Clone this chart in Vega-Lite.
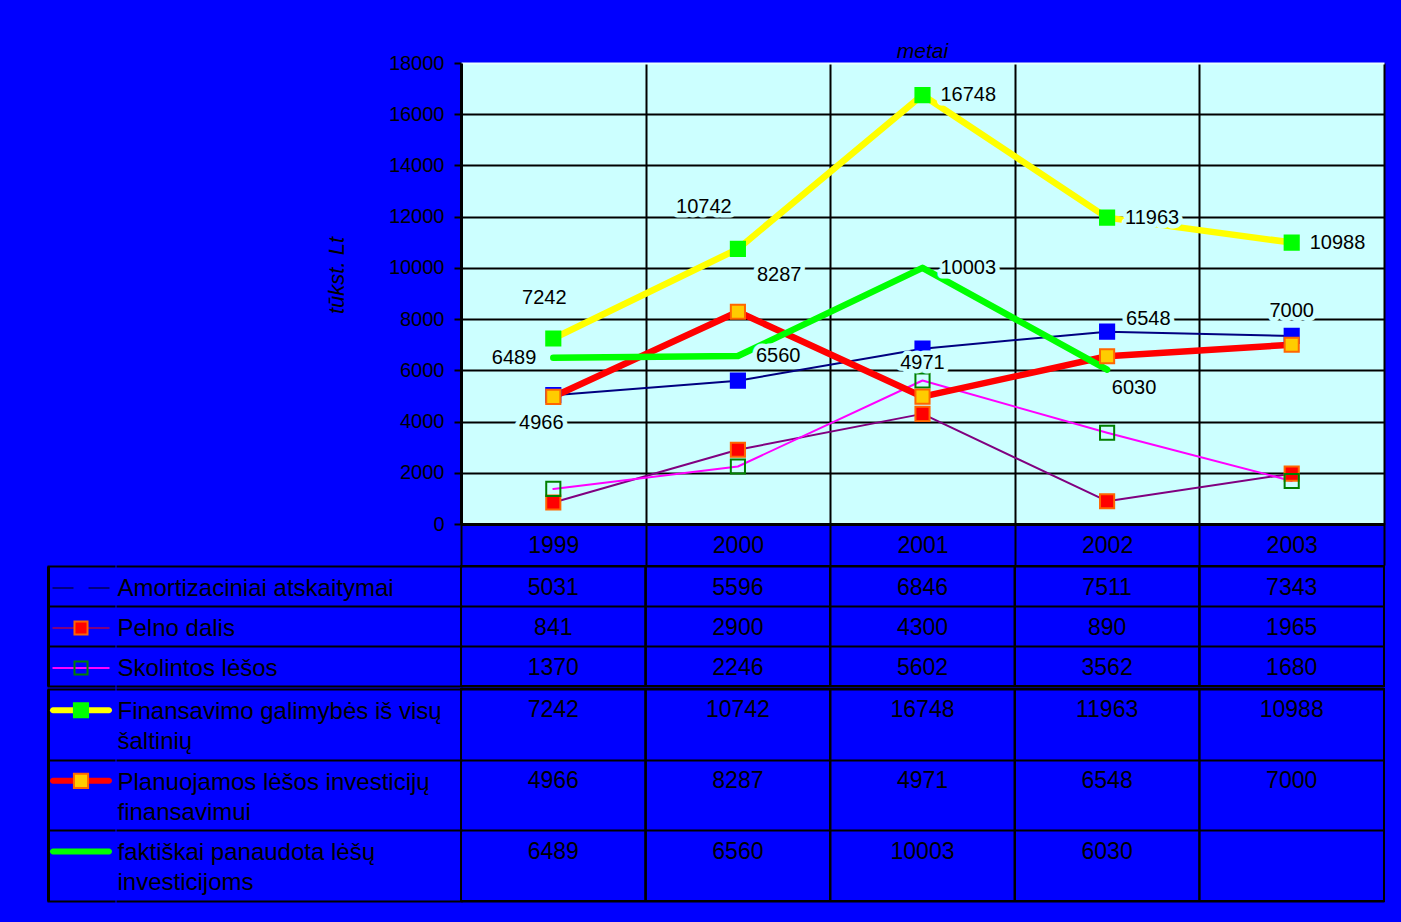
{
  "$schema": "https://vega.github.io/schema/vega-lite/v6.json",
  "background": "#0000FF",
  "padding": {"left": 48, "top": 41, "right": 15, "bottom": 19},
  "autosize": {"type": "pad"},
  "config": {
    "font": "Liberation Sans",
    "view": {"stroke": null},
    "axis": {"labelFont": "Liberation Sans", "titleFont": "Liberation Sans", "labelColor": "black", "titleColor": "black"},
    "text": {"font": "Liberation Sans"},
    "title": {"font": "Liberation Sans"}
  },
  "datasets": {
    "vals": [
      {"s": "Amortizaciniai atskaitymai", "y": 1999, "v": 5031},
      {"s": "Amortizaciniai atskaitymai", "y": 2000, "v": 5596},
      {"s": "Amortizaciniai atskaitymai", "y": 2001, "v": 6846},
      {"s": "Amortizaciniai atskaitymai", "y": 2002, "v": 7511},
      {"s": "Amortizaciniai atskaitymai", "y": 2003, "v": 7343},
      {"s": "Pelno dalis", "y": 1999, "v": 841},
      {"s": "Pelno dalis", "y": 2000, "v": 2900},
      {"s": "Pelno dalis", "y": 2001, "v": 4300},
      {"s": "Pelno dalis", "y": 2002, "v": 890},
      {"s": "Pelno dalis", "y": 2003, "v": 1965},
      {"s": "Skolintos lėšos", "y": 1999, "v": 1370},
      {"s": "Skolintos lėšos", "y": 2000, "v": 2246},
      {"s": "Skolintos lėšos", "y": 2001, "v": 5602},
      {"s": "Skolintos lėšos", "y": 2002, "v": 3562},
      {"s": "Skolintos lėšos", "y": 2003, "v": 1680},
      {"s": "Finansavimo galimybės iš visų šaltinių", "y": 1999, "v": 7242},
      {"s": "Finansavimo galimybės iš visų šaltinių", "y": 2000, "v": 10742},
      {"s": "Finansavimo galimybės iš visų šaltinių", "y": 2001, "v": 16748},
      {"s": "Finansavimo galimybės iš visų šaltinių", "y": 2002, "v": 11963},
      {"s": "Finansavimo galimybės iš visų šaltinių", "y": 2003, "v": 10988},
      {"s": "Planuojamos lėšos investicijų finansavimui", "y": 1999, "v": 4966},
      {"s": "Planuojamos lėšos investicijų finansavimui", "y": 2000, "v": 8287},
      {"s": "Planuojamos lėšos investicijų finansavimui", "y": 2001, "v": 4971},
      {"s": "Planuojamos lėšos investicijų finansavimui", "y": 2002, "v": 6548},
      {"s": "Planuojamos lėšos investicijų finansavimui", "y": 2003, "v": 7000},
      {"s": "faktiškai panaudota lėšų investicijoms", "y": 1999, "v": 6489},
      {"s": "faktiškai panaudota lėšų investicijoms", "y": 2000, "v": 6560},
      {"s": "faktiškai panaudota lėšų investicijoms", "y": 2001, "v": 10003},
      {"s": "faktiškai panaudota lėšų investicijoms", "y": 2002, "v": 6030}
    ]
  },
  "columns": 2,
  "spacing": {"row": -13, "column": 0},
  "align": "each",
  "bounds": "full",
  "resolve": {"scale": {"x": "independent", "y": "independent"}},
  "concat": [
    {
      "width": 10,
      "height": 10,
      "data": {"values": [{"t": ""}]},
      "mark": {"type": "text"},
      "encoding": {"text": {"field": "t"}}
    },
    {
      "width": 923,
      "height": 461,
      "view": {"fill": "#CCFFFF", "stroke": null},
      "title": {"text": "metai", "anchor": "middle", "frame": "group", "fontStyle": "italic", "fontWeight": "normal", "fontSize": 21, "color": "black", "offset": -9},
      "data": {"name": "vals"},
      "encoding": {
        "x": {
          "field": "y", "type": "ordinal", "bandPosition": 0.5,
          "scale": {"type": "band", "paddingInner": 0, "paddingOuter": 0},
          "axis": {"title": null, "orient": "bottom", "minExtent": 0, "labelAngle": 0, "labelFontSize": 23, "labelColor": "black", "labelPadding": -19, "labelBaseline": "middle", "tickBand": "extent", "tickSize": 40, "tickColor": "black", "tickWidth": 2, "tickCap": "square", "domainColor": "black", "domainWidth": 3, "grid": true, "gridColor": "black", "gridWidth": 2}
        },
        "y": {
          "field": "v", "type": "quantitative",
          "scale": {"domain": [0, 18000], "nice": false},
          "axis": {"title": "tūkst. Lt", "values": [0, 2000, 4000, 6000, 8000, 10000, 12000, 14000, 16000, 18000], "format": "d", "grid": true, "gridColor": {"condition": {"test": "datum.value == 18000", "value": "#E8FFFF"}, "value": "black"}, "gridWidth": 2, "tickSize": 7, "tickColor": "black", "tickWidth": 2, "labelPadding": 10, "labelFontSize": 20, "labelColor": "black", "domainColor": "black", "domainWidth": 3, "titleFontSize": 22, "titleFontStyle": "italic", "titleFontWeight": "normal", "titleColor": "black", "titleX": -113, "titleY": 212}
        }
      },
      "layer": [
        {
          "transform": [{"filter": {"field": "s", "oneOf": ["Amortizaciniai atskaitymai", "Pelno dalis", "Skolintos lėšos"]}}],
          "mark": {"type": "line", "strokeWidth": 2, "strokeCap": "round", "strokeJoin": "round"},
          "encoding": {
            "color": {"field": "s", "type": "nominal", "legend": null, "scale": {"domain": ["Amortizaciniai atskaitymai", "Pelno dalis", "Skolintos lėšos", "Finansavimo galimybės iš visų šaltinių", "Planuojamos lėšos investicijų finansavimui", "faktiškai panaudota lėšų investicijoms"], "range": ["#000080", "#800080", "#FF00FF", "#FFFF00", "#FF0000", "#00FF00"]}}
          }
        },
        {
          "transform": [{"filter": {"field": "s", "oneOf": ["Finansavimo galimybės iš visų šaltinių", "Planuojamos lėšos investicijų finansavimui", "faktiškai panaudota lėšų investicijoms"]}}],
          "mark": {"type": "line", "strokeWidth": 6.5, "strokeCap": "round", "strokeJoin": "round"},
          "encoding": {
            "color": {"field": "s", "type": "nominal", "legend": null, "scale": {"domain": ["Amortizaciniai atskaitymai", "Pelno dalis", "Skolintos lėšos", "Finansavimo galimybės iš visų šaltinių", "Planuojamos lėšos investicijų finansavimui", "faktiškai panaudota lėšų investicijoms"], "range": ["#000080", "#800080", "#FF00FF", "#FFFF00", "#FF0000", "#00FF00"]}}
          }
        },
        {
          "transform": [{"filter": "!test(/^fak/, datum.s)"}],
          "mark": {"type": "point", "shape": "square", "filled": true, "size": 200, "strokeWidth": 2, "opacity": 1},
          "encoding": {
            "fill": {"field": "s", "type": "nominal", "legend": null, "scale": {"domain": ["Amortizaciniai atskaitymai", "Pelno dalis", "Skolintos lėšos", "Finansavimo galimybės iš visų šaltinių", "Planuojamos lėšos investicijų finansavimui"], "range": ["#0000FF", "#FF0000", "transparent", "#00FF00", "#FFCC00"]}},
            "stroke": {"field": "s", "type": "nominal", "legend": null, "scale": {"domain": ["Amortizaciniai atskaitymai", "Pelno dalis", "Skolintos lėšos", "Finansavimo galimybės iš visų šaltinių", "Planuojamos lėšos investicijų finansavimui"], "range": ["#0000FF", "#FF6600", "#008000", "#00FF00", "#FF6600"]}}
          }
        },
        {"transform": [{"filter": "(test(/^Fin/, datum.s) && datum.y >= 2001) || (test(/^fak/, datum.s) && (datum.y == 2000 || datum.y == 2001))"}], "mark": {"type": "text", "align": "left", "baseline": "middle", "dx": 18, "dy": 0, "fontSize": 20, "fill": "#CCFFFF", "stroke": "#CCFFFF", "strokeWidth": 9, "strokeJoin": "round"}, "encoding": {"text": {"field": "v", "type": "quantitative", "format": "d"}}},
        {"transform": [{"filter": "test(/^fak/, datum.s) && datum.y == 1999"}], "mark": {"type": "text", "align": "right", "baseline": "middle", "dx": -17, "dy": 0, "fontSize": 20, "fill": "#CCFFFF", "stroke": "#CCFFFF", "strokeWidth": 9, "strokeJoin": "round"}, "encoding": {"text": {"field": "v", "type": "quantitative", "format": "d"}}},
        {"transform": [{"filter": "test(/^Plan/, datum.s) && (datum.y == 2001 || datum.y == 2003)"}], "mark": {"type": "text", "align": "center", "baseline": "middle", "dx": 0, "dy": -34, "fontSize": 20, "fill": "#CCFFFF", "stroke": "#CCFFFF", "strokeWidth": 9, "strokeJoin": "round"}, "encoding": {"text": {"field": "v", "type": "quantitative", "format": "d"}}},
        {"transform": [{"filter": "test(/^Fin/, datum.s) && datum.y == 1999"}], "mark": {"type": "text", "align": "center", "baseline": "middle", "dx": -9, "dy": -41, "fontSize": 20, "fill": "#CCFFFF", "stroke": "#CCFFFF", "strokeWidth": 9, "strokeJoin": "round"}, "encoding": {"text": {"field": "v", "type": "quantitative", "format": "d"}}},
        {"transform": [{"filter": "test(/^Fin/, datum.s) && datum.y == 2000"}], "mark": {"type": "text", "align": "center", "baseline": "middle", "dx": -34, "dy": -42, "fontSize": 20, "fill": "#CCFFFF", "stroke": "#CCFFFF", "strokeWidth": 9, "strokeJoin": "round"}, "encoding": {"text": {"field": "v", "type": "quantitative", "format": "d"}}},
        {"transform": [{"filter": "test(/^Plan/, datum.s) && (datum.y == 2000 || datum.y == 2002)"}], "mark": {"type": "text", "align": "left", "baseline": "middle", "dx": 19, "dy": -37, "fontSize": 20, "fill": "#CCFFFF", "stroke": "#CCFFFF", "strokeWidth": 9, "strokeJoin": "round"}, "encoding": {"text": {"field": "v", "type": "quantitative", "format": "d"}}},
        {"transform": [{"filter": "test(/^Plan/, datum.s) && datum.y == 1999"}], "mark": {"type": "text", "align": "center", "baseline": "middle", "dx": -12, "dy": 26, "fontSize": 20, "fill": "#CCFFFF", "stroke": "#CCFFFF", "strokeWidth": 9, "strokeJoin": "round"}, "encoding": {"text": {"field": "v", "type": "quantitative", "format": "d"}}},
        {"transform": [{"filter": "test(/^fak/, datum.s) && datum.y == 2002"}], "mark": {"type": "text", "align": "center", "baseline": "middle", "dx": 27, "dy": 18, "fontSize": 20, "fill": "#CCFFFF", "stroke": "#CCFFFF", "strokeWidth": 9, "strokeJoin": "round"}, "encoding": {"text": {"field": "v", "type": "quantitative", "format": "d"}}},
        {"transform": [{"filter": "(test(/^Fin/, datum.s) && datum.y >= 2001) || (test(/^fak/, datum.s) && (datum.y == 2000 || datum.y == 2001))"}], "mark": {"type": "text", "align": "left", "baseline": "middle", "dx": 18, "dy": 0, "fontSize": 20, "fill": "black"}, "encoding": {"text": {"field": "v", "type": "quantitative", "format": "d"}}},
        {"transform": [{"filter": "test(/^fak/, datum.s) && datum.y == 1999"}], "mark": {"type": "text", "align": "right", "baseline": "middle", "dx": -17, "dy": 0, "fontSize": 20, "fill": "black"}, "encoding": {"text": {"field": "v", "type": "quantitative", "format": "d"}}},
        {"transform": [{"filter": "test(/^Plan/, datum.s) && (datum.y == 2001 || datum.y == 2003)"}], "mark": {"type": "text", "align": "center", "baseline": "middle", "dx": 0, "dy": -34, "fontSize": 20, "fill": "black"}, "encoding": {"text": {"field": "v", "type": "quantitative", "format": "d"}}},
        {"transform": [{"filter": "test(/^Fin/, datum.s) && datum.y == 1999"}], "mark": {"type": "text", "align": "center", "baseline": "middle", "dx": -9, "dy": -41, "fontSize": 20, "fill": "black"}, "encoding": {"text": {"field": "v", "type": "quantitative", "format": "d"}}},
        {"transform": [{"filter": "test(/^Fin/, datum.s) && datum.y == 2000"}], "mark": {"type": "text", "align": "center", "baseline": "middle", "dx": -34, "dy": -42, "fontSize": 20, "fill": "black"}, "encoding": {"text": {"field": "v", "type": "quantitative", "format": "d"}}},
        {"transform": [{"filter": "test(/^Plan/, datum.s) && (datum.y == 2000 || datum.y == 2002)"}], "mark": {"type": "text", "align": "left", "baseline": "middle", "dx": 19, "dy": -37, "fontSize": 20, "fill": "black"}, "encoding": {"text": {"field": "v", "type": "quantitative", "format": "d"}}},
        {"transform": [{"filter": "test(/^Plan/, datum.s) && datum.y == 1999"}], "mark": {"type": "text", "align": "center", "baseline": "middle", "dx": -12, "dy": 26, "fontSize": 20, "fill": "black"}, "encoding": {"text": {"field": "v", "type": "quantitative", "format": "d"}}},
        {"transform": [{"filter": "test(/^fak/, datum.s) && datum.y == 2002"}], "mark": {"type": "text", "align": "center", "baseline": "middle", "dx": 27, "dy": 18, "fontSize": 20, "fill": "black"}, "encoding": {"text": {"field": "v", "type": "quantitative", "format": "d"}}}
      ]
    },
    {
      "width": 66,
      "height": 120,
      "data": {"name": "vals"},
      "transform": [{"filter": "datum.y == 1999"}, {"filter": {"field": "s", "oneOf": ["Amortizaciniai atskaitymai", "Pelno dalis", "Skolintos lėšos"]}}],
      "encoding": {
        "y": {"field": "s", "type": "nominal", "bandPosition": 0.55, "scale": {"type": "band", "domain": ["Amortizaciniai atskaitymai", "Pelno dalis", "Skolintos lėšos"], "paddingInner": 0, "paddingOuter": 0}, "axis": {"title": null, "labels": false, "ticks": false, "domain": true, "domainColor": "black", "domainWidth": 3, "grid": true, "gridColor": "black", "gridWidth": 2, "gridCap": "square", "tickBand": "extent"}}
      },
      "layer": [
        {"mark": {"type": "tick", "orient": "horizontal", "size": 57, "thickness": 2, "opacity": 1}, "encoding": {"color": {"field": "s", "type": "nominal", "legend": null, "scale": {"domain": ["Amortizaciniai atskaitymai", "Pelno dalis", "Skolintos lėšos", "Finansavimo galimybės iš visų šaltinių", "Planuojamos lėšos investicijų finansavimui", "faktiškai panaudota lėšų investicijoms"], "range": ["#000080", "#800080", "#FF00FF", "#FFFF00", "#FF0000", "#00FF00"]}}}},
        {"mark": {"type": "point", "shape": "square", "filled": true, "size": 170, "strokeWidth": 2, "opacity": 1}, "encoding": {
          "fill": {"field": "s", "type": "nominal", "legend": null, "scale": {"domain": ["Amortizaciniai atskaitymai", "Pelno dalis", "Skolintos lėšos", "Finansavimo galimybės iš visų šaltinių", "Planuojamos lėšos investicijų finansavimui"], "range": ["#0000FF", "#FF0000", "transparent", "#00FF00", "#FFCC00"]}},
          "stroke": {"field": "s", "type": "nominal", "legend": null, "scale": {"domain": ["Amortizaciniai atskaitymai", "Pelno dalis", "Skolintos lėšos", "Finansavimo galimybės iš visų šaltinių", "Planuojamos lėšos investicijų finansavimui"], "range": ["#0000FF", "#FF6600", "#008000", "#00FF00", "#FF6600"]}}
        }}
      ]
    },
    {
      "width": 923,
      "height": 120,
      "view": {"stroke": "black", "strokeWidth": 2},
      "data": {"name": "vals"},
      "transform": [{"filter": {"field": "s", "oneOf": ["Amortizaciniai atskaitymai", "Pelno dalis", "Skolintos lėšos"]}}],
      "layer": [
        {
          "mark": {"type": "rule", "color": "black", "strokeWidth": 2},
          "encoding": {"x": {"field": "y", "type": "ordinal", "bandPosition": 0, "scale": {"type": "band", "domain": [1999, 2000, 2001, 2002, 2003], "paddingInner": 0, "paddingOuter": 0}, "axis": null}}
        },
        {
          "mark": {"type": "text", "fontSize": 23, "baseline": "middle", "fill": "black"},
          "encoding": {
            "x": {"field": "y", "type": "ordinal", "bandPosition": 0.5, "scale": {"type": "band", "domain": [1999, 2000, 2001, 2002, 2003], "paddingInner": 0, "paddingOuter": 0}, "axis": null},
            "y": {"field": "s", "type": "nominal", "bandPosition": 0.55, "scale": {"type": "band", "domain": ["Amortizaciniai atskaitymai", "Pelno dalis", "Skolintos lėšos"], "paddingInner": 0, "paddingOuter": 0}, "axis": {"title": null, "domain": false, "grid": true, "gridColor": "black", "gridWidth": 2, "tickBand": "extent", "ticks": true, "tickSize": 344, "tickWidth": 2, "tickColor": "black", "tickCap": "square", "labelAlign": "left", "labelBaseline": "middle", "labelPadding": 0, "labelFontSize": 24, "labelColor": "black", "labelLimit": 400, "labelOverlap": false, "labelOffset": 2, "labelLineHeight": 30, "labelExpr": "length(datum.label) > 30 ? [substring(datum.label, 0, lastindexof(substring(datum.label, 0, 30), ' ')), substring(datum.label, lastindexof(substring(datum.label, 0, 30), ' ') + 1)] : datum.label"}},
            "text": {"field": "v", "type": "quantitative", "format": "d"}
          }
        }
      ]
    },
    {
      "width": 66,
      "height": 212,
      "data": {"name": "vals"},
      "transform": [{"filter": "datum.y == 1999"}, {"filter": {"field": "s", "oneOf": ["Finansavimo galimybės iš visų šaltinių", "Planuojamos lėšos investicijų finansavimui", "faktiškai panaudota lėšų investicijoms"]}}],
      "encoding": {
        "y": {"field": "s", "type": "nominal", "bandPosition": 0.3, "scale": {"type": "band", "domain": ["Finansavimo galimybės iš visų šaltinių", "Planuojamos lėšos investicijų finansavimui", "faktiškai panaudota lėšų investicijoms"], "paddingInner": 0, "paddingOuter": 0}, "axis": {"title": null, "labels": false, "ticks": false, "domain": true, "domainColor": "black", "domainWidth": 3, "grid": true, "gridColor": "black", "gridWidth": 2, "gridCap": "square", "tickBand": "extent"}}
      },
      "layer": [
        {"mark": {"type": "tick", "orient": "horizontal", "size": 62, "thickness": 6, "cornerRadius": 3, "opacity": 1}, "encoding": {"color": {"field": "s", "type": "nominal", "legend": null, "scale": {"domain": ["Amortizaciniai atskaitymai", "Pelno dalis", "Skolintos lėšos", "Finansavimo galimybės iš visų šaltinių", "Planuojamos lėšos investicijų finansavimui", "faktiškai panaudota lėšų investicijoms"], "range": ["#000080", "#800080", "#FF00FF", "#FFFF00", "#FF0000", "#00FF00"]}}}},
        {"transform": [{"filter": "!test(/^fak/, datum.s)"}], "mark": {"type": "point", "shape": "square", "filled": true, "size": 200, "strokeWidth": 2, "opacity": 1}, "encoding": {
          "fill": {"field": "s", "type": "nominal", "legend": null, "scale": {"domain": ["Amortizaciniai atskaitymai", "Pelno dalis", "Skolintos lėšos", "Finansavimo galimybės iš visų šaltinių", "Planuojamos lėšos investicijų finansavimui"], "range": ["#0000FF", "#FF0000", "transparent", "#00FF00", "#FFCC00"]}},
          "stroke": {"field": "s", "type": "nominal", "legend": null, "scale": {"domain": ["Amortizaciniai atskaitymai", "Pelno dalis", "Skolintos lėšos", "Finansavimo galimybės iš visų šaltinių", "Planuojamos lėšos investicijų finansavimui"], "range": ["#0000FF", "#FF6600", "#008000", "#00FF00", "#FF6600"]}}
        }}
      ]
    },
    {
      "width": 923,
      "height": 212,
      "view": {"stroke": "black", "strokeWidth": 2},
      "data": {"name": "vals"},
      "transform": [{"filter": {"field": "s", "oneOf": ["Finansavimo galimybės iš visų šaltinių", "Planuojamos lėšos investicijų finansavimui", "faktiškai panaudota lėšų investicijoms"]}}],
      "layer": [
        {
          "mark": {"type": "rule", "color": "black", "strokeWidth": 2},
          "encoding": {"x": {"field": "y", "type": "ordinal", "bandPosition": 0, "scale": {"type": "band", "domain": [1999, 2000, 2001, 2002, 2003], "paddingInner": 0, "paddingOuter": 0}, "axis": null}}
        },
        {
          "mark": {"type": "text", "fontSize": 23, "baseline": "middle", "fill": "black"},
          "encoding": {
            "x": {"field": "y", "type": "ordinal", "bandPosition": 0.5, "scale": {"type": "band", "domain": [1999, 2000, 2001, 2002, 2003], "paddingInner": 0, "paddingOuter": 0}, "axis": null},
            "y": {"field": "s", "type": "nominal", "bandPosition": 0.3, "scale": {"type": "band", "domain": ["Finansavimo galimybės iš visų šaltinių", "Planuojamos lėšos investicijų finansavimui", "faktiškai panaudota lėšų investicijoms"], "paddingInner": 0, "paddingOuter": 0}, "axis": {"title": null, "domain": false, "grid": true, "gridColor": "black", "gridWidth": 2, "tickBand": "extent", "ticks": true, "tickSize": 344, "tickWidth": 2, "tickColor": "black", "tickCap": "square", "labelAlign": "left", "labelBaseline": "middle", "labelPadding": 0, "labelFontSize": 24, "labelColor": "black", "labelLimit": 400, "labelOverlap": false, "labelOffset": -13, "labelLineHeight": 30, "labelExpr": "length(datum.label) > 30 ? [substring(datum.label, 0, lastindexof(substring(datum.label, 0, 30), ' ')), substring(datum.label, lastindexof(substring(datum.label, 0, 30), ' ') + 1)] : datum.label"}},
            "text": {"field": "v", "type": "quantitative", "format": "d"}
          }
        }
      ]
    }
  ]
}
